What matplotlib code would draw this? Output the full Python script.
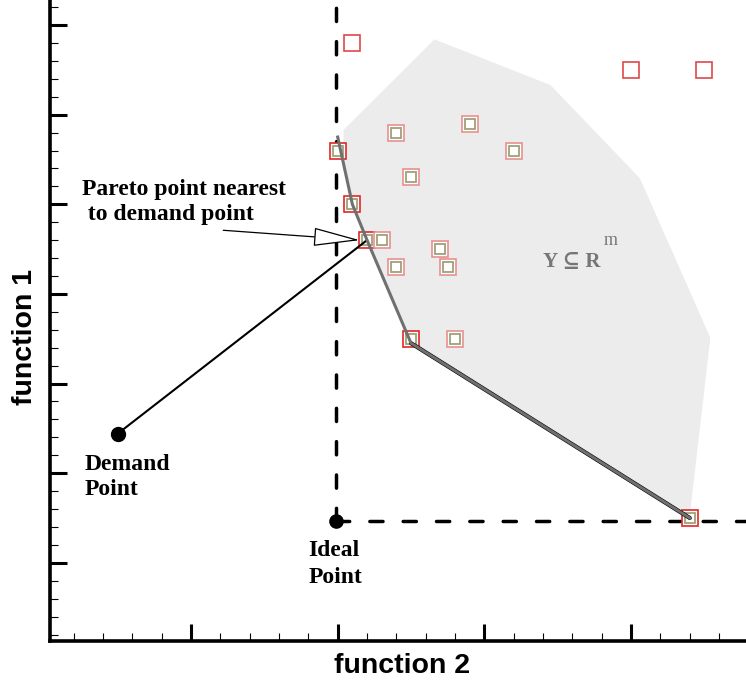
import matplotlib
matplotlib.use('Agg')
import matplotlib.pyplot as plt
from matplotlib.ticker import MultipleLocator

# objective space samples (function 2, function 1)
pts_x = [2.1, 4.0, 4.5, 2.4, 2.9, 3.2, 2.0, 2.5, 2.1, 2.2, 2.3, 2.7, 2.4, 2.75, 2.5, 2.8, 4.4]
pts_y = [6.8, 6.5, 6.5, 5.8, 5.9, 5.6, 5.6, 5.3, 5.0, 4.6, 4.6, 4.5, 4.3, 4.3, 3.5, 3.5, 1.5]
# 0 = outside feasible set, 1 = feasible, 2 = pareto optimal
pts_kind = [0, 0, 0, 1, 1, 1, 2, 1, 2, 2, 1, 1, 1, 1, 2, 1, 2]

front_x = [2.0, 2.1, 2.2, 2.5, 4.4]
front_y = [5.75, 5.0, 4.6, 3.45, 1.5]

region_x = [2.04, 2.66, 3.45, 4.06, 4.54, 4.40, 2.5, 2.2, 2.1, 2.04]
region_y = [5.83, 6.84, 6.33, 5.29, 3.51, 1.53, 3.45, 4.6, 5.0, 5.5]

demand = (0.5, 2.44)
ideal = (1.99, 1.47)
nearest = (2.2, 4.6)

serif = ['Liberation Serif', 'DejaVu Serif']
sans = ['Liberation Sans', 'DejaVu Sans']

fig = plt.figure(figsize=(7.46, 6.85), dpi=100)
ax = fig.add_axes([50/746, 44/685, 696/746, 641/685])
ax.set_xlim(0.039, 4.783)
ax.set_ylim(0.128, 7.279)

# feasible set
ax.fill(region_x, region_y, color='#ececec', lw=0, zorder=1)

# ideal point reference lines
ax.plot([ideal[0], ideal[0]], [ideal[1], 7.4], color='black', lw=2.5,
        linestyle=(0, (3.8, 5.8)), dash_capstyle='round', zorder=2)
ax.plot([ideal[0], 4.9], [ideal[1], ideal[1]], color='black', lw=2.5,
        linestyle=(0, (3.8, 5.8)), dash_capstyle='round', zorder=2)

# sample points
for x, y, k in zip(pts_x, pts_y, pts_kind):
    ec = {0: '#e04848', 1: '#e89090', 2: '#e02828'}[k]
    ax.plot(x, y, 's', ms=11.5, mfc='white', mec=ec, mew=1.2, zorder=3)
    if k > 0:
        ax.plot(x, y, 's', ms=7, mfc='none', mec='#a0a078', mew=1.3, zorder=3)

# pareto front
ax.plot(front_x[3:], front_y[3:], color='black', lw=3, zorder=4, solid_capstyle='round')
ax.plot(front_x, front_y, color='#707070', lw=2.2, zorder=5, solid_joinstyle='round')

# demand point to nearest pareto point
ax.plot([demand[0], nearest[0]], [demand[1], nearest[1]], color='black', lw=1.5, zorder=4)
ax.plot(*demand, 'o', color='black', ms=10, zorder=6)
ax.plot(*ideal, 'o', color='black', ms=9.5, zorder=6)

ax.annotate('', xy=(2.15, 4.60), xytext=(1.22, 4.71),
            arrowprops=dict(arrowstyle='-|>,head_length=3.0,head_width=0.6',
                            fc='white', ec='black', lw=0.9, mutation_scale=10,
                            shrinkA=0, shrinkB=0), zorder=7)

tkw = dict(family=serif, fontweight='bold', fontsize=17, va='baseline', zorder=8)
ax.text(0.257, 5.10, 'Pareto point nearest', **tkw)
ax.text(0.257, 4.82, ' to demand point', **tkw)
ax.text(0.277, 2.04, 'Demand', **tkw)
ax.text(0.277, 1.76, 'Point', **tkw)
ax.text(1.80, 1.08, 'Ideal', **tkw)
ax.text(1.80, 0.78, 'Point', **tkw)
ax.text(3.40, 4.30, 'Y \u2286 R', family=serif, fontweight='bold', fontsize=15,
        color='#767676', va='baseline', zorder=8)
ax.text(3.81, 4.55, 'm', family=serif, fontsize=13, color='#767676', va='baseline', zorder=8)

# axes styling
for s in ['top', 'right']:
    ax.spines[s].set_visible(False)
for s in ['left', 'bottom']:
    ax.spines[s].set_linewidth(2.6)
ax.xaxis.set_major_locator(MultipleLocator(1))
ax.xaxis.set_minor_locator(MultipleLocator(0.2))
ax.yaxis.set_major_locator(MultipleLocator(1))
ax.yaxis.set_minor_locator(MultipleLocator(0.2))
ax.tick_params(which='major', direction='in', length=12, width=2.2,
               labelbottom=False, labelleft=False)
ax.tick_params(which='minor', direction='in', length=6, width=0.8)

fig.text(402/746, 1 - 666/685, 'function 2', family=sans, fontweight='bold',
         fontsize=20.5, ha='center', va='center')
fig.text(25/746, 1 - 337/685, 'function 1', family=sans, fontweight='bold',
         fontsize=20.5, ha='center', va='center', rotation=90)

fig.savefig('out.png', dpi=100)
